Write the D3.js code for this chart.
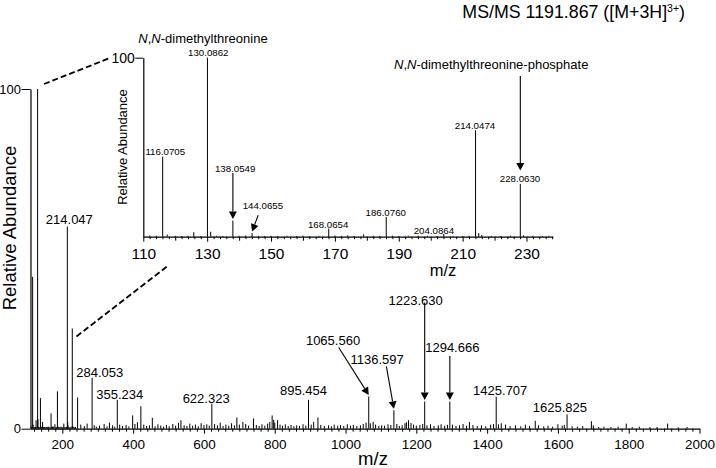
<!DOCTYPE html>
<html><head><meta charset="utf-8">
<script src="https://cdn.jsdelivr.net/npm/d3@7"></script>
<style>
body{margin:0;background:#fff}
svg{display:block}
text{font-family:"Liberation Sans",Arial,Helvetica,sans-serif;fill:#000}
</style>
</head><body>
<svg id="chart" width="716" height="468"></svg>
<script>
// ---------- DATA ----------
// low-mass region (shown in main spectrum and in the zoomed inset)
const lowMz  = [112.0,114.1,116.0705,117.5,120.0,122.0,124.0,125.8,128.0,130.0862,131.1,133.0,135.0,138.0549,140.0,142.0,144.0655,146.0,148.0,150.0,152.0,155.0,158.0,160.0,162.0,165.0,168.0654,170.0,172.0,174.0,176.0,179.0,182.0,184.0,186.0760,188.0,190.0,193.0,196.0,199.0,202.0,204.0864,207.0,210.0,212.0,214.0474,215.05,216.0,219.0,222.0,225.0,228.0630,229.1,232.0,235.0,237.0];
const lowInt = [0.6,0.5,44.7,1.2,0.5,0.4,0.5,2.5,0.4,100,2.8,0.5,0.4,9,0.5,0.6,2,0.5,0.4,0.5,0.4,0.5,0.4,0.6,0.4,0.5,4.5,0.6,0.5,0.7,0.4,1.3,0.5,0.4,11,0.6,0.4,0.5,0.6,0.5,0.4,1.5,0.5,0.4,0.5,59.5,2,1,0.5,0.4,0.6,29.5,0.8,0.5,0.4,0.5];
// rest of the MS/MS spectrum
const mainMz  = [243.1,252,262,270,284.053,290,296,305,318,326,333,342,348,355.234,362,370,380,388,398.6,405,412,421.8,430,438,446,454.2,462,470,478,486,494,502,512,520,528,535,544,552,560,568,576,584,592,600,608,615,622.323,630,638,646,654,662,670,678,686,693,700,710,718,726,740,748,756,764,772,780,786,792.7,797,800,808,815,822,830,838,846,854,862,870,880,888,895.454,903,910,922,930,940,952,960,968,978,986,995,1005,1014,1022,1032,1042,1050,1058,1065.560,1070,1078,1085,1094,1102,1110,1120,1128,1136.597,1145,1152,1160,1168,1172,1178,1185,1192,1200,1210,1218,1223.630,1230,1240,1250,1262,1270,1280,1288,1294.666,1302,1312,1322,1332,1342,1350,1360,1372,1384,1396,1410,1418,1425.707,1432,1440,1452,1465,1480,1495,1508,1520,1536,1545,1560,1572,1585,1600,1612,1618,1625.825,1640,1655,1670,1694.6,1700,1715,1730,1750,1770,1793,1810,1830,1860,1880,1910,1940,1965];
const mainInt = [9.2,1.2,0.8,1.5,15,1.0,0.6,0.9,1.4,0.7,1.8,1.0,0.6,8.5,1.2,0.8,1.1,0.7,3.9,1.4,1.9,6.6,1.2,0.8,1.0,3.2,0.7,1.3,0.9,0.6,1.1,0.7,1.4,0.9,1.7,2.5,1.0,0.8,1.5,0.9,1.2,0.7,1.6,1.1,1.3,0.9,7.4,1.4,1.0,1.8,0.8,1.2,0.9,1.6,1.0,3.3,1.2,2.0,1.4,0.9,3.0,1.1,0.8,1.3,0.9,1.5,2.0,3.9,2.6,1.8,2.5,1.2,0.9,1.3,0.8,1.1,0.7,1.0,0.8,1.3,0.9,8.5,1.2,2.0,3.3,1.1,0.8,1.0,0.7,1.2,0.9,1.1,0.8,1.3,0.9,1.1,0.8,1.0,1.4,1.8,9.5,1.6,2.0,1.2,0.8,1.0,0.9,1.3,1.1,5.4,1.4,0.8,1.0,1.6,1.9,2.5,1.7,1.2,0.9,1.1,1.4,8,1.0,1.3,0.8,1.0,1.3,0.9,1.1,8,1.2,0.8,1.0,1.4,0.9,2.0,1.1,0.8,1.0,0.7,1.2,1.4,9.4,1.3,1.6,1.2,0.8,1.0,0.7,1.2,0.8,2.3,1.0,0.7,0.9,0.6,1.3,0.9,1.1,4.2,0.7,0.6,0.8,2.2,1.0,0.5,0.6,0.5,0.6,1.5,0.5,0.6,0.5,0.5,1.5,0.4,0.5];

const mainTickValues  = [200,400,600,800,1000,1200,1400,1600,1800,2000];
const mainYTickValues = [0,100];
const insetTickValues = [110,130,150,170,190,210,230];

const mainLabelMz   = [214.047,284.053,355.234,622.323,895.454,1065.560,1136.597,1223.630,1294.666,1425.707,1625.825];
const mainLabelText = ["214.047","284.053","355.234","622.323","895.454","1065.560","1136.597","1223.630","1294.666","1425.707","1625.825"];
const insetLabelMz   = [116.0705,130.0862,138.0549,144.0655,168.0654,186.0760,204.0864,214.0474,228.0630];
const insetLabelText = ["116.0705","130.0862","138.0549","144.0655","168.0654","186.0760","204.0864","214.0474","228.0630"];

// ---------- LAYOUT (pixel offsets from peak top) ----------
const mainLabelLayout = [
  {dx:2,dy:-3},{dx:7.6,dy:-1},{dx:2.4,dy:-1},{dx:-5.7,dy:-1},{dx:-5,dy:-5},
  {dx:-35.7,dy:-51,ax:-30,ay:-49},
  {dx:-16.8,dy:-46.4,ax:-7.5,ay:-44},
  {dx:-9,dy:-97,ax:0,ay:-99},
  {dx:2.5,dy:-49.2,ax:0,ay:-45.5},
  {dx:4,dy:-1.5},{dx:-7.2,dy:-2}
];
const insetLabelLayout = [
  {dx:2.6,dy:-1.5},{dx:0.8,dy:-1.7},
  {dx:2.3,dy:-49,ax:0,ay:-47.6},
  {dx:10.8,dy:-24.5,ax:6.1,ay:-18},
  {dx:-0.6,dy:-1},{dx:-0.5,dy:-1},{dx:-9.8,dy:-0.5},{dx:-0.6,dy:-1},{dx:-0.3,dy:-2.2}
];

// ---------- DRAW ----------
const svg = d3.select("#chart");
const allMz  = lowMz.concat(mainMz);
const allInt = lowInt.concat(mainInt);
const peaks = allMz.map((m,i)=>({mz:m,v:allInt[i]}));
const lowPeaks = lowMz.map((m,i)=>({mz:m,v:lowInt[i]}));
const intensityOf = (mz, arr)=> arr.reduce((a,b)=>Math.abs(b.mz-mz)<Math.abs(a.mz-mz)?b:a).v;

const x = d3.scaleLinear().domain([110,2000]).range([30.5,699.5]);
const y = d3.scaleLinear().domain([0,100]).range([428.7,89]);
const xi = d3.scaleLinear().domain([110,238.3]).range([143.3,553]);
const yi = d3.scaleLinear().domain([0,100]).range([236.7,57.7]);

function arrowHead(g, x1,y1,x2,y2){
  const ang = Math.atan2(y2-y1,x2-x1);
  const L=7.5, W=4;
  const bx = x2-L*Math.cos(ang), by = y2-L*Math.sin(ang);
  const px = -Math.sin(ang)*W, py = Math.cos(ang)*W;
  g.append("line").attr("x1",x1).attr("y1",y1).attr("x2",bx).attr("y2",by)
   .attr("stroke","#000").attr("stroke-width",1.1);
  g.append("path").attr("d",`M${x2},${y2}L${bx+px},${by+py}L${bx-px},${by-py}Z`).attr("fill","#000");
}

// ---- main spectrum ----
const main = svg.append("g");
main.append("g").selectAll("line").data(peaks.filter(d=>d.mz>=110&&d.mz<=2000)).join("line")
  .attr("x1",d=>x(d.mz)).attr("x2",d=>x(d.mz))
  .attr("y1",y(0)).attr("y2",d=>y(d.v))
  .attr("stroke","#000").attr("stroke-width",1);

// x axis main
const minorMain = d3.range(120,2001,20).filter(v=>mainTickValues.indexOf(v)<0);
const xAxMinor = main.append("g").attr("transform",`translate(0,${y(0)})`)
  .call(d3.axisBottom(x).tickValues(minorMain).tickSize(3).tickSizeOuter(0).tickFormat(""));
xAxMinor.select(".domain").remove();
const xAx = main.append("g").attr("transform",`translate(0,${y(0)})`)
  .call(d3.axisBottom(x).tickValues(mainTickValues).tickSize(5).tickSizeOuter(0).tickFormat(d3.format("d")));
xAx.selectAll("text").attr("font-size","13.5px").attr("dy","0.95em").attr("y",7);
svg.selectAll(".domain").attr("stroke-width",1.2);

// y axis main
const yAx = main.append("g").attr("transform",`translate(${x(110)},0)`)
  .call(d3.axisLeft(y).tickValues(mainYTickValues).tickSize(9).tickSizeOuter(0).tickFormat(d3.format("d")));
yAx.selectAll("text").attr("font-size","13px").attr("x",-9.5);
yAx.select(".domain").attr("stroke-width",1.2);

main.append("text").attr("x",373).attr("y",465).attr("text-anchor","middle")
  .attr("font-size","18.5px").text("m/z");
main.append("text").attr("transform","translate(16,228) rotate(-90)").attr("text-anchor","middle")
  .attr("font-size","18.5px").text("Relative Abundance");

// main labels
const mlab = main.append("g");
mainLabelMz.forEach((mz,i)=>{
  const L = mainLabelLayout[i];
  const px = x(mz), py = y(intensityOf(mz,peaks));
  mlab.append("text").attr("x",px+L.dx).attr("y",py+L.dy).attr("text-anchor","middle")
    .attr("font-size","13px").text(mainLabelText[i]);
  if(L.ax!==undefined){
    arrowHead(mlab, px+L.ax, py+L.ay, px, py-1.5);
  }
});

// ---- inset ----
const ins = svg.append("g");
ins.append("g").selectAll("line").data(lowPeaks).join("line")
  .attr("x1",d=>xi(d.mz)).attr("x2",d=>xi(d.mz))
  .attr("y1",yi(0)).attr("y2",d=>yi(d.v))
  .attr("stroke","#000").attr("stroke-width",1);

const minorIns = d3.range(112,239,2).filter(v=>v%10!==0);
const tenIns = d3.range(120,239,10).filter(v=>insetTickValues.indexOf(v)<0);
const iaMinor = ins.append("g").attr("transform",`translate(0,${yi(0)})`)
  .call(d3.axisBottom(xi).tickValues(minorIns).tickSize(2.5).tickSizeOuter(0).tickFormat(""));
iaMinor.select(".domain").remove();
const iaTen = ins.append("g").attr("transform",`translate(0,${yi(0)})`)
  .call(d3.axisBottom(xi).tickValues(tenIns).tickSize(4).tickSizeOuter(0).tickFormat(""));
iaTen.select(".domain").remove();
const ia = ins.append("g").attr("transform",`translate(0,${yi(0)})`)
  .call(d3.axisBottom(xi).tickValues(insetTickValues).tickSize(5).tickSizeOuter(0).tickFormat(d3.format("d")));
ia.selectAll("text").attr("font-size","15.5px").attr("y",8).attr("dy","0.9em");
ia.select(".domain").attr("stroke-width",1.2);
const iy = ins.append("g").attr("transform",`translate(${xi(110)},0)`)
  .call(d3.axisLeft(yi).tickValues([100]).tickSize(8).tickSizeOuter(0).tickFormat(d3.format("d")));
iy.selectAll("text").attr("font-size","14px").attr("x",-8.5);
iy.select(".domain").attr("stroke-width",1.2);

ins.append("text").attr("x",443).attr("y",276).attr("text-anchor","middle")
  .attr("font-size","16.5px").text("m/z");
ins.append("text").attr("transform","translate(127,147) rotate(-90)").attr("text-anchor","middle")
  .attr("font-size","13px").text("Relative Abundance");

const ilab = ins.append("g");
insetLabelMz.forEach((mz,i)=>{
  const L = insetLabelLayout[i];
  const px = xi(mz), py = yi(intensityOf(mz,lowPeaks));
  ilab.append("text").attr("x",px+L.dx).attr("y",py+L.dy).attr("text-anchor","middle")
    .attr("font-size","9.7px").text(insetLabelText[i]);
  if(L.ax!==undefined){
    arrowHead(ilab, px+L.ax, py+L.ay, px, py-1.5);
  }
});

// compound names
const t1 = ins.append("text").attr("x",138.3).attr("y",43).attr("font-size","13px");
t1.append("tspan").attr("font-style","italic").text("N");
t1.append("tspan").text(",");
t1.append("tspan").attr("font-style","italic").text("N");
t1.append("tspan").text("-dimethylthreonine");
const t2 = ins.append("text").attr("x",394).attr("y",68.5).attr("font-size","13px");
t2.append("tspan").attr("font-style","italic").text("N");
t2.append("tspan").text(",");
t2.append("tspan").attr("font-style","italic").text("N");
t2.append("tspan").text("-dimethylthreonine-phosphate");
// phosphate arrow to 228.0630
{
  const px = xi(228.0630), py = yi(intensityOf(228.0630,lowPeaks));
  arrowHead(ins, px, 76, px, py-13.5);
}

// dashed zoom lines
svg.append("line").attr("x1",44).attr("y1",84).attr("x2",110).attr("y2",58)
  .attr("stroke","#000").attr("stroke-width",1.8).attr("stroke-dasharray","6,3");
svg.append("line").attr("x1",76.5).attr("y1",336.5).attr("x2",167).attr("y2",266.5)
  .attr("stroke","#000").attr("stroke-width",1.8).attr("stroke-dasharray","6,3");

// title
const title = svg.append("text").attr("x",685).attr("y",18).attr("text-anchor","end")
  .attr("font-size","17.8px");
title.append("tspan").text("MS/MS 1191.867 ([M+3H]");
title.append("tspan").attr("font-size","10.5px").attr("dy","-6").text("3+");
title.append("tspan").attr("dy","6").text(")");
</script>
</body></html>
